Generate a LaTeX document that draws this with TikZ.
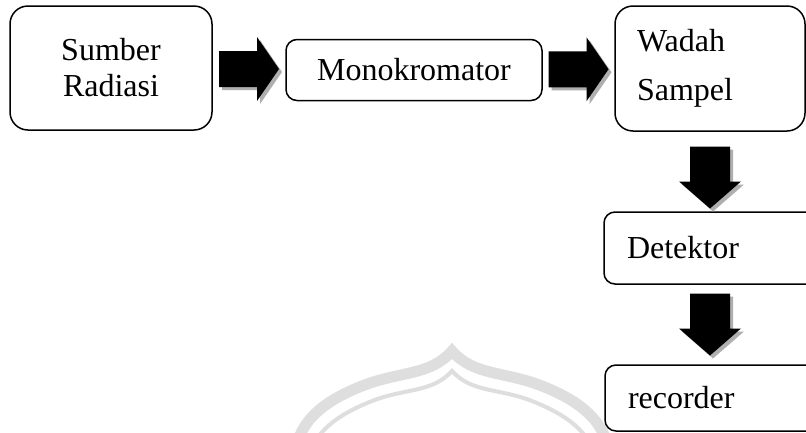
\documentclass[tikz,border=0pt]{standalone}
\usepackage{fontspec}
\setmainfont{Liberation Serif}
\usetikzlibrary{positioning, calc}
\definecolor{wmgray}{RGB}{222,222,222}
\definecolor{shadowgray}{RGB}{175,175,175}
\tikzset{
  box/.style={rectangle, draw=black, fill=white, line width=1.5pt,
    rounded corners=18pt, inner sep=0pt},
  smallbox/.style={box, rounded corners=11pt},
  boxtext/.style={font=\fontsize{32}{36}\selectfont},
  % block arrow pointing right, shadow below right
  pics/rightarrow/.style={code={
    \fill[shadowgray] (-27,-15) -- (11,-15) -- (11,-29) -- (33,3) -- (11,35)
      -- (11,21) -- (-27,21) -- cycle;
    \fill[black] (-30,-18) -- (8,-18) -- (8,-32) -- (30,0) -- (8,32)
      -- (8,18) -- (-30,18) -- cycle;
  }},
  % block arrow pointing down
  pics/downarrow/.style={code={
    \fill[shadowgray] (-17,-28) -- (23,-28) -- (23,7) -- (34,7) -- (3,34)
      -- (-28,7) -- (-17,7) -- cycle;
    \fill[black] (-20,-31) -- (20,-31) -- (20,4) -- (31,4) -- (0,31)
      -- (-31,4) -- (-20,4) -- cycle;
  }}
}
\begin{document}
\begin{tikzpicture}[x=1pt, y=-1pt]
  \useasboundingbox (0,0) rectangle (806,432);
  \clip (0,0) rectangle (806,432);
  \fill[white] (0,0) rectangle (806,432);
  % faint arch in the background
  \draw[wmgray, line width=11pt, line join=miter, miter limit=20]
    (298,440) .. controls (306,418) and (324,401) .. (362,386)
    .. controls (400,371) and (430,376) .. (452,351)
    .. controls (474,376) and (504,371) .. (542,386)
    .. controls (580,401) and (598,418) .. (606,440);
  \draw[wmgray, line width=4pt, line join=miter, miter limit=20]
    (316,440) .. controls (326,425) and (342,413) .. (372,401)
    .. controls (405,388) and (432,393) .. (452,371)
    .. controls (472,393) and (499,388) .. (532,401)
    .. controls (562,413) and (578,425) .. (588,440);
  % Blocks
  \node[box, minimum width=202pt, minimum height=124pt, align=center, boxtext]
    (src) at (111,68) {Sumber\\Radiasi};
  \node[smallbox, minimum width=256pt, minimum height=61pt, boxtext]
    (mono) at (414,70) {Monokromator};
  \node[box, minimum width=190pt, minimum height=125pt, text width=146pt,
    align=left, font=\fontsize{32}{49}\selectfont]
    (wadah) at (710,68.5) {Wadah\\Sampel};
  \node[smallbox, minimum width=230pt, minimum height=72pt, text width=184pt,
    align=left, boxtext] (det) at (719,248) {Detektor};
  \node[smallbox, minimum width=230pt, minimum height=66pt, text width=184pt,
    align=left, boxtext] (rec) at (720,398) {recorder};
  % Arrows
  \pic (a1) at ($(src.east)!0.5!(mono.west)$) {rightarrow};
  \pic (a2) at ($(mono.east)!0.5!(wadah.west)$) {rightarrow};
  \pic (d1) at ($(wadah.south)!0.5!(det.north -| wadah.south) + (0,6)$) {downarrow};
  \pic (d2) at ($(det.south -| wadah.south)!0.5!(rec.north -| wadah.south)$) {downarrow};
\end{tikzpicture}
\end{document}
